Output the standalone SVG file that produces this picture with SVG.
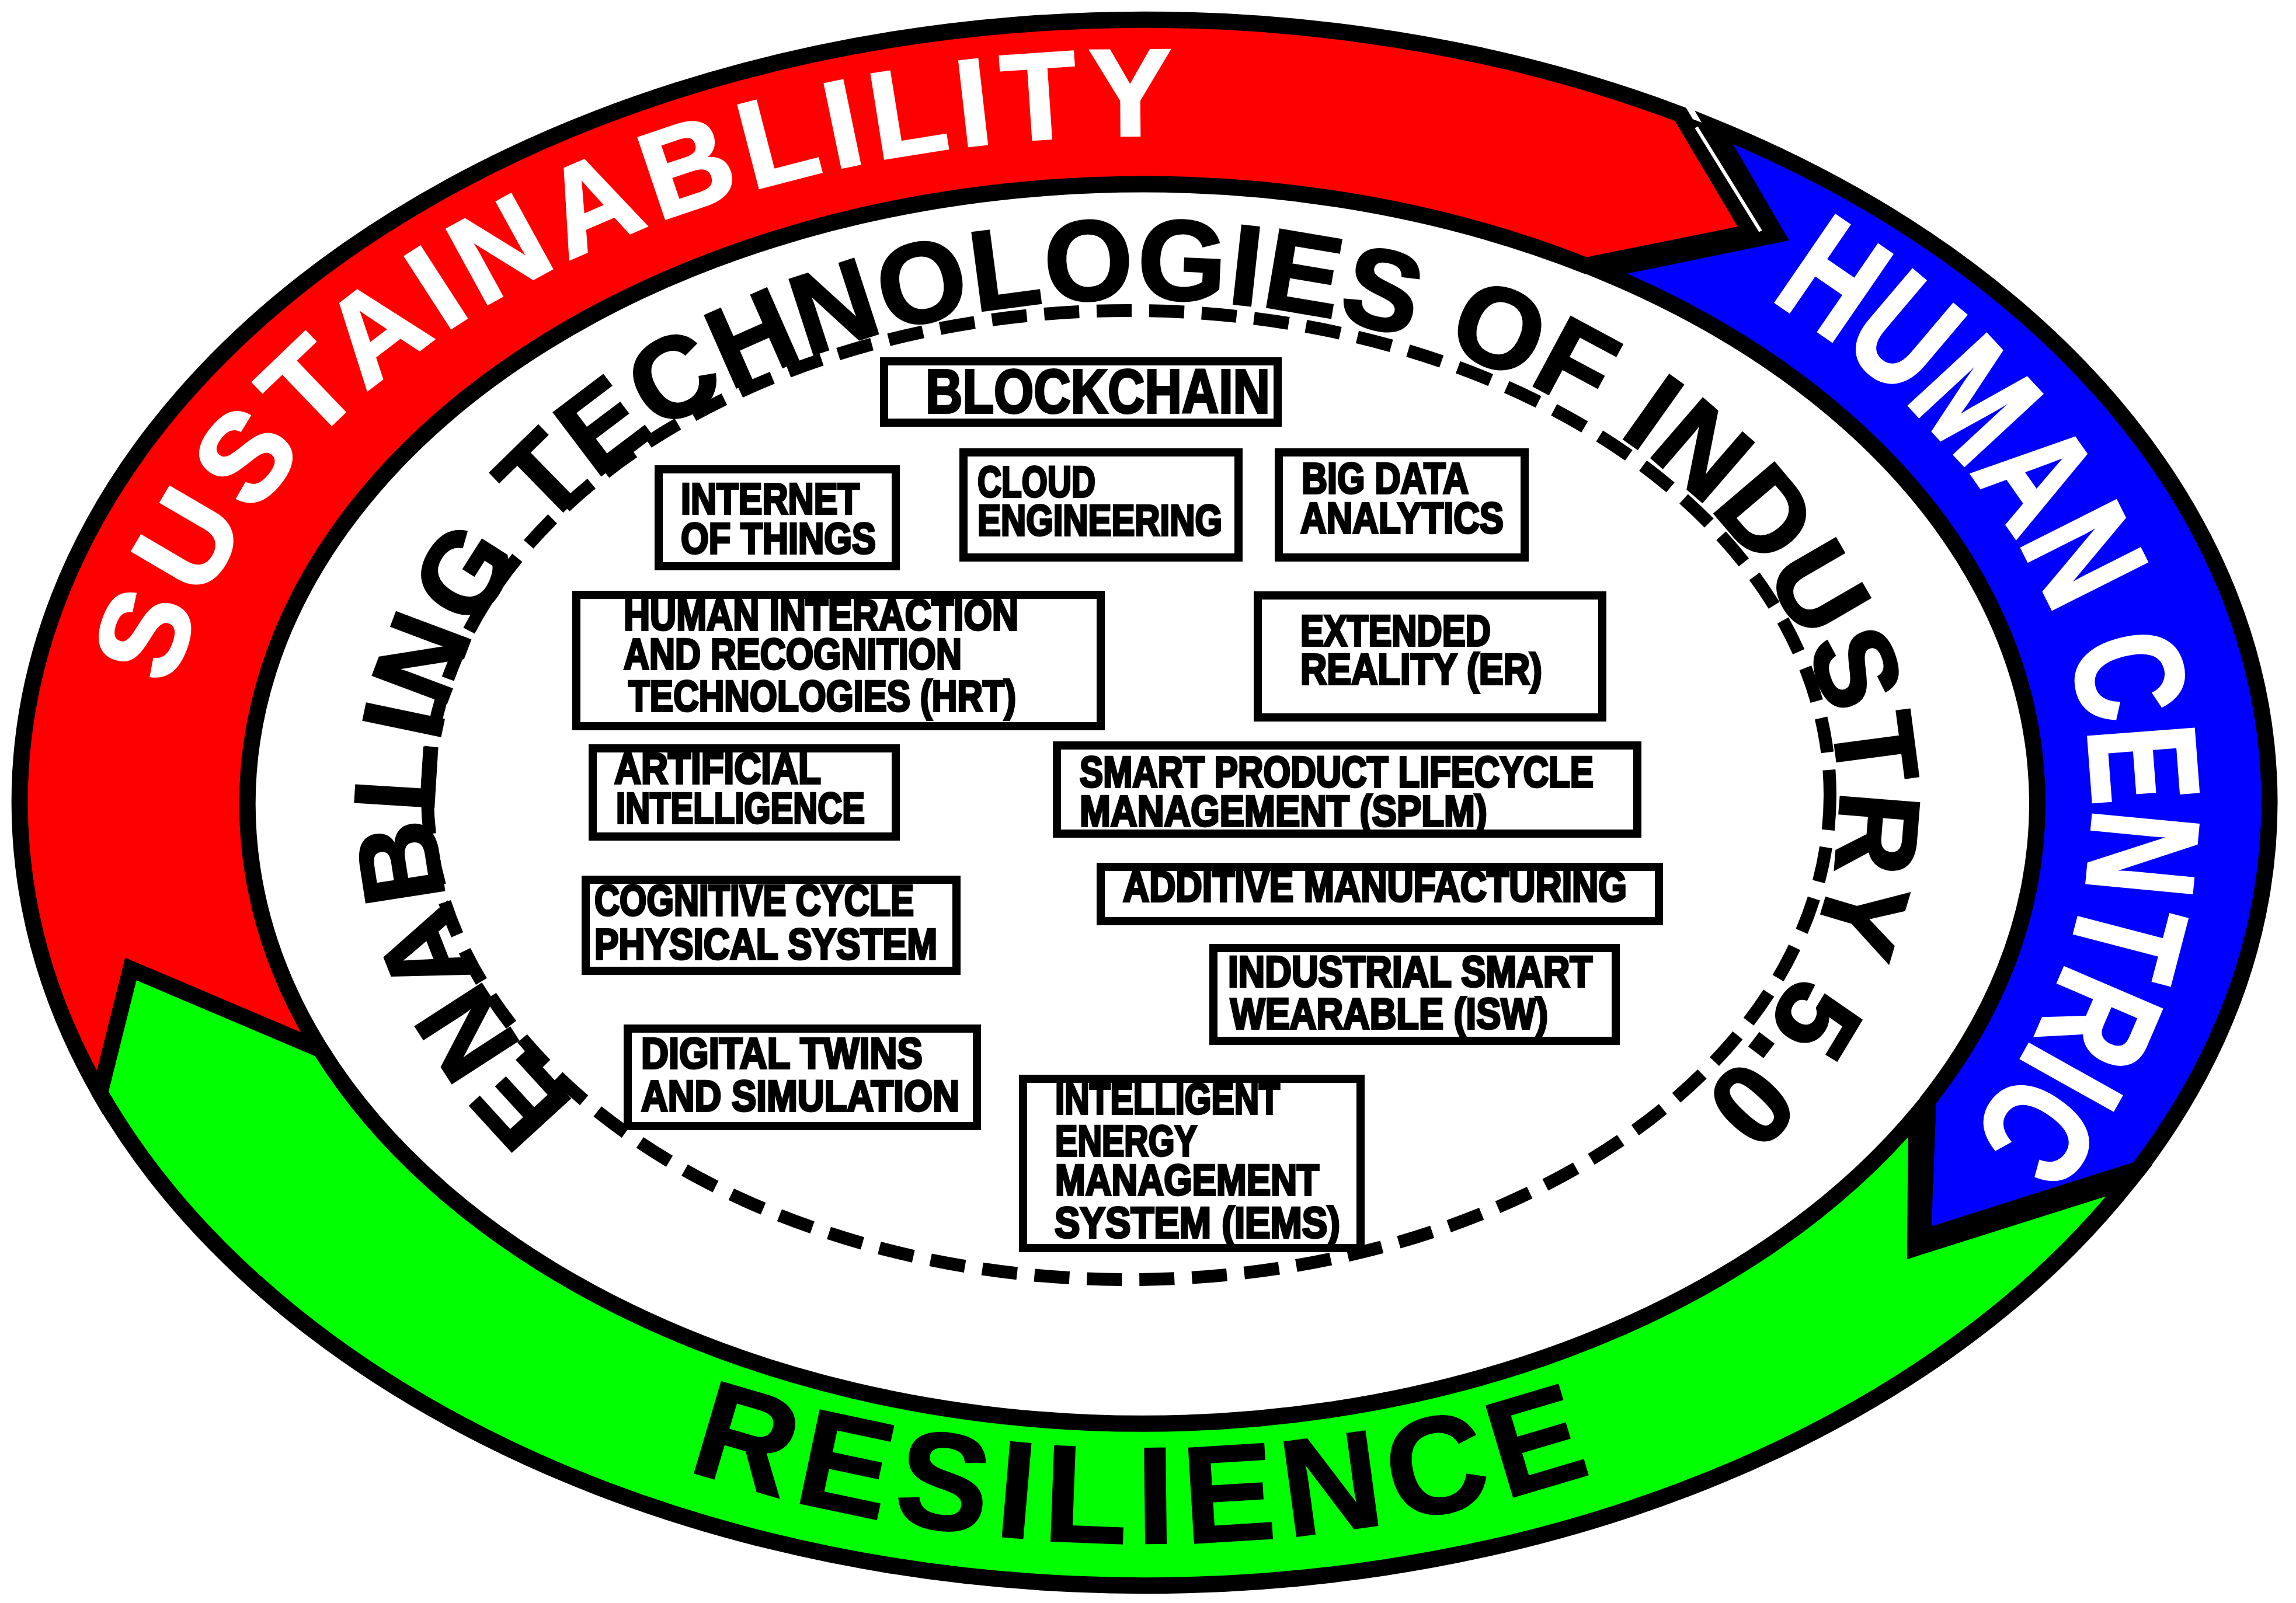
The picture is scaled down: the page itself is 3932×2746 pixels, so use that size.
<svg xmlns="http://www.w3.org/2000/svg" width="3932" height="2746" viewBox="0 0 3932 2746">
<defs>
<style>
.band{stroke:#000;stroke-width:28;stroke-linejoin:miter;stroke-miterlimit:6}
.box rect{fill:#fff;stroke:#000;stroke-width:14}
.bt{font-family:"Liberation Sans",Arial,sans-serif;font-weight:bold;font-size:74px;fill:#000;stroke:#000;stroke-width:4}
.bt.big{font-size:106px}
.arc{font-family:"Liberation Sans",Arial,sans-serif;font-weight:bold}
</style>
<path id="pSus" d="M 295.7 1178.2 A 1690 1145 0 0 1 3254.6 641"/>
<path id="pHum" d="M 3029.1 511.7 A 1623 1150 0 0 1 3203.2 2116.2"/>
<path id="pRes" d="M 803 2347 A 1800 1268 0 0 0 3117 2347"/>
<path id="pEn" d="M 986.3 1889.5 A 1203 860 0 1 1 2812.3 1969.4"/>
</defs>
<rect width="3932" height="2746" fill="#fff"/>
<g id="ring">
<path id="band-red" class="band" fill="#ff0000" d="M 171 1872 A 1926 1341 0 0 1 2878 196 L 2998 398 L 2716 455 A 1533 1062 0 0 0 549 1798 L 224 1660 Z"/>
<path id="band-blue" class="band" fill="#0000ff" d="M 2935 218 A 1926 1341 0 0 1 3662 2003 L 3293 2120 L 3302 1885 A 1533 1062 0 0 0 2740 464 L 3042 402 Z"/>
<path id="band-green" class="band" fill="#00ff00" d="M 3647 2022 A 1926 1341 0 0 1 171 1872 L 224 1660 L 549 1798 A 1533 1062 0 0 0 3282 1910 L 3280 2138 Z"/>
<polygon points="2878,196 2998,398 3042,402 2935,218" fill="#000"/>
<line x1="2905" y1="218" x2="3015" y2="396" stroke="#fff" stroke-width="6"/>
</g>
<g id="ring-labels">
<text class="arc" font-size="212" fill="#fff" stroke="#fff" stroke-width="4" letter-spacing="16"><textPath href="#pSus">SUSTAINABLILITY</textPath></text>
<text class="arc" font-size="262" fill="#fff" stroke="#fff" stroke-width="5"><textPath href="#pHum" textLength="1690" lengthAdjust="spacingAndGlyphs">HUMAN CENTRIC</textPath></text>
<text class="arc" font-size="236" fill="#000" stroke="#000" stroke-width="3" letter-spacing="18" text-anchor="middle"><textPath href="#pRes" startOffset="50%">RESILIENCE</textPath></text>
</g>
<g id="connectors">
<ellipse cx="1933" cy="1362" rx="1201" ry="830" fill="none" stroke="#000" stroke-width="22" stroke-dasharray="60 30"/>
</g>
<g id="title">
<text class="arc" font-size="195" fill="#000" stroke="#000" stroke-width="4" letter-spacing="3"><textPath href="#pEn">ENABLING TECHNOLOGIES OF INDUSTRY 5.0</textPath></text>
</g>
<g id="blockchain" class="box"><rect x="1514" y="619" width="674" height="105"/><text class="bt big" x="1585" y="707" textLength="590" lengthAdjust="spacingAndGlyphs">BLOCKCHAIN</text></g>
<g id="cloud" class="box"><rect x="1650" y="775" width="471" height="180"/><text class="bt" x="1674" y="851" textLength="202" lengthAdjust="spacingAndGlyphs">CLOUD</text><text class="bt" x="1674" y="917" textLength="419" lengthAdjust="spacingAndGlyphs">ENGINEERING</text></g>
<g id="bigdata" class="box"><rect x="2190" y="775" width="421" height="180"/><text class="bt" x="2229" y="845" textLength="286" lengthAdjust="spacingAndGlyphs">BIG DATA</text><text class="bt" x="2227" y="913" textLength="348" lengthAdjust="spacingAndGlyphs">ANALYTICS</text></g>
<g id="iot" class="box"><rect x="1128" y="804" width="406" height="166"/><text class="bt" x="1166" y="880" textLength="306" lengthAdjust="spacingAndGlyphs">INTERNET</text><text class="bt" x="1166" y="948" textLength="334" lengthAdjust="spacingAndGlyphs">OF THINGS</text></g>
<g id="hrt" class="box"><rect x="987" y="1019" width="898" height="225"/><text class="bt" x="1068" y="1079" textLength="676" lengthAdjust="spacingAndGlyphs">HUMAN INTERACTION</text><text class="bt" x="1068" y="1146" textLength="579" lengthAdjust="spacingAndGlyphs">AND RECOGNITION</text><text class="bt" x="1076" y="1218" textLength="664" lengthAdjust="spacingAndGlyphs">TECHNOLOGIES (HRT)</text></g>
<g id="er" class="box"><rect x="2154" y="1020" width="590" height="209"/><text class="bt" x="2227" y="1106" textLength="326" lengthAdjust="spacingAndGlyphs">EXTENDED</text><text class="bt" x="2227" y="1172" textLength="414" lengthAdjust="spacingAndGlyphs">REALITY (ER)</text></g>
<g id="ai" class="box"><rect x="1015" y="1282" width="519" height="151"/><text class="bt" x="1052" y="1342" textLength="354" lengthAdjust="spacingAndGlyphs">ARTIFICIAL</text><text class="bt" x="1055" y="1410" textLength="426" lengthAdjust="spacingAndGlyphs">INTELLIGENCE</text></g>
<g id="splm" class="box"><rect x="1810" y="1277" width="994" height="151"/><text class="bt" x="1849" y="1348" textLength="880" lengthAdjust="spacingAndGlyphs">SMART PRODUCT LIFECYCLE</text><text class="bt" x="1849" y="1415" textLength="698" lengthAdjust="spacingAndGlyphs">MANAGEMENT (SPLM)</text></g>
<g id="am" class="box"><rect x="1885" y="1485" width="956" height="93"/><text class="bt" x="1923" y="1544" textLength="863" lengthAdjust="spacingAndGlyphs">ADDITIVE MANUFACTURING</text></g>
<g id="ccps" class="box"><rect x="1003" y="1507" width="635" height="156"/><text class="bt" x="1018" y="1568" textLength="547" lengthAdjust="spacingAndGlyphs">COGNITIVE CYCLE</text><text class="bt" x="1018" y="1643" textLength="587" lengthAdjust="spacingAndGlyphs">PHYSICAL SYSTEM</text></g>
<g id="isw" class="box"><rect x="2078" y="1624" width="689" height="159"/><text class="bt" x="2103" y="1690" textLength="624" lengthAdjust="spacingAndGlyphs">INDUSTRIAL SMART</text><text class="bt" x="2107" y="1762" textLength="544" lengthAdjust="spacingAndGlyphs">WEARABLE (ISW)</text></g>
<g id="dts" class="box"><rect x="1075" y="1762" width="598" height="167"/><text class="bt" x="1098" y="1830" textLength="482" lengthAdjust="spacingAndGlyphs">DIGITAL TWINS</text><text class="bt" x="1098" y="1903" textLength="545" lengthAdjust="spacingAndGlyphs">AND SIMULATION</text></g>
<g id="iems" class="box"><rect x="1752" y="1848" width="578" height="290"/><text class="bt" x="1807" y="1908" textLength="385" lengthAdjust="spacingAndGlyphs">INTELLIGENT</text><text class="bt" x="1807" y="1980" textLength="243" lengthAdjust="spacingAndGlyphs">ENERGY</text><text class="bt" x="1807" y="2047" textLength="452" lengthAdjust="spacingAndGlyphs">MANAGEMENT</text><text class="bt" x="1806" y="2120" textLength="489" lengthAdjust="spacingAndGlyphs">SYSTEM (IEMS)</text></g>
</svg>
